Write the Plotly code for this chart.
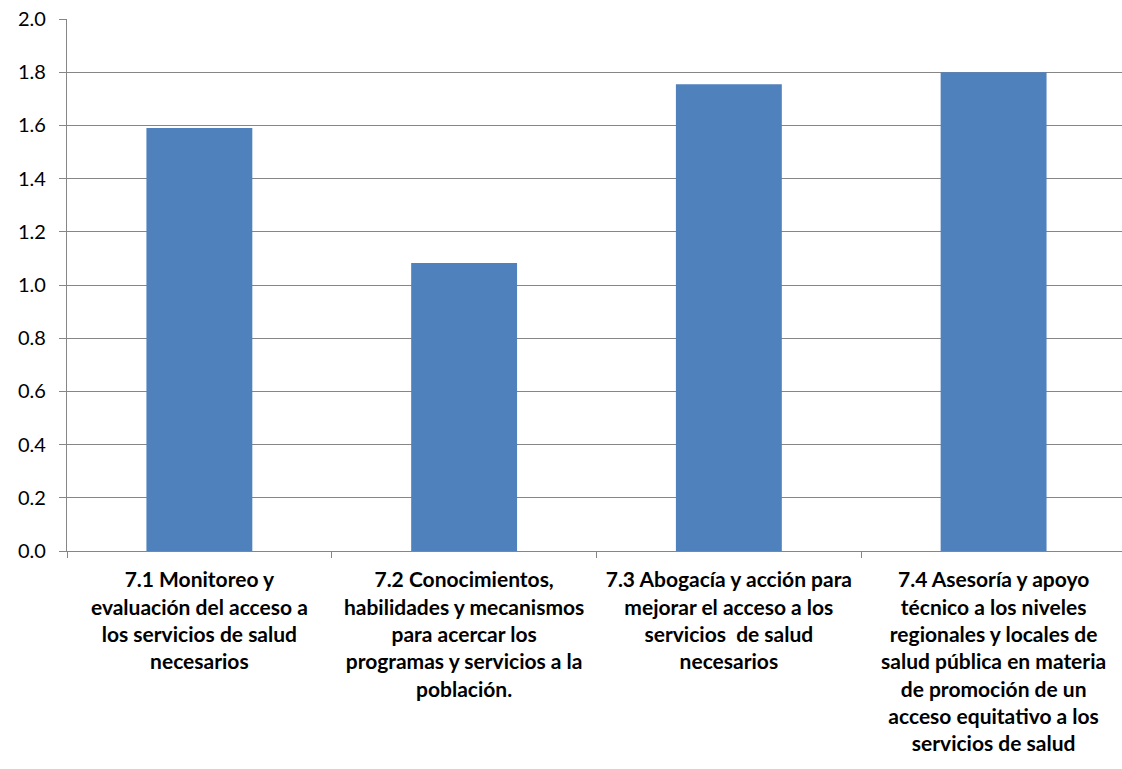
import plotly.graph_objects as go

categories = [
    "7.1 Monitoreo y<br>evaluación del acceso a<br>los servicios de salud<br>necesarios",
    "7.2 Conocimientos,<br>habilidades y mecanismos<br>para acercar los<br>programas y servicios a la<br>población.",
    "7.3 Abogacía y acción para<br>mejorar el acceso a los<br>servicios  de salud<br>necesarios",
    "7.4 Asesoría y apoyo<br>técnico a los niveles<br>regionales y locales de<br>salud pública en materia<br>de promoción de un<br>acceso equitativo a los<br>servicios de salud",
]
values = [1.59, 1.083, 1.755, 1.80]
y_ticks = [0.0, 0.2, 0.4, 0.6, 0.8, 1.0, 1.2, 1.4, 1.6, 1.8, 2.0]

grid = "#868686"
fig = go.Figure(go.Bar(x=categories, y=values, marker=dict(color="#4F81BD", line=dict(width=0)), width=0.4))

fig.update_layout(
    width=1122, height=769,
    margin=dict(l=67, r=0, t=19, b=218),
    paper_bgcolor="white", plot_bgcolor="white",
    showlegend=False,
    font=dict(family="Lato, Open Sans, sans-serif", color="black"),
)
fig.update_yaxes(
    range=[0, 2.0], tickvals=y_ticks, tickformat=".1f",
    showgrid=True, gridcolor=grid, gridwidth=1.4,
    showline=True, linecolor=grid, linewidth=1.4,
    ticks="outside", ticklen=7, tickcolor=grid, tickwidth=1.4,
    tickfont=dict(size=20, color="black"), ticklabelstandoff=9,
    zeroline=False,
)
fig.update_xaxes(
    range=[-0.5, 3.485],
    showline=True, linecolor=grid, linewidth=1.4,
    ticks="outside", tickson="boundaries", ticklen=6, tickcolor=grid, tickwidth=1.4,
    tickfont=dict(size=21, color="black", weight="bold"), tickangle=0,
    ticklabelstandoff=10,
)
fig.write_html("out.html")
